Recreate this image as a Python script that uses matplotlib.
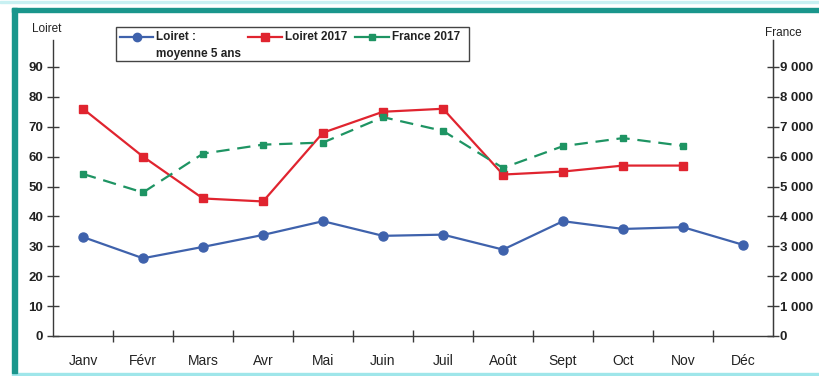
import matplotlib
matplotlib.use("Agg")
import matplotlib.pyplot as plt
from matplotlib.lines import Line2D
from matplotlib.patches import Rectangle
from matplotlib.ticker import FuncFormatter

plt.rcParams['font.family'] = ['Liberation Sans', 'DejaVu Sans']

months = ["Janv", "Févr", "Mars", "Avr", "Mai", "Juin", "Juil", "Août",
          "Sept", "Oct", "Nov", "Déc"]
loiret_avg5 = [33.1, 26.0, 29.8, 33.8, 38.4, 33.5, 33.9, 28.9, 38.4, 35.8, 36.4, 30.5]
loiret_2017 = [76, 60, 46, 45, 68, 75, 76, 54, 55, 57, 57]
france_2017 = [5420, 4800, 6100, 6400, 6470, 7320, 6860, 5620, 6350, 6620, 6360]

left_ticks = list(range(0, 100, 10))
right_ticks = list(range(0, 10000, 1000))

BLUE = "#3F62AC"
RED = "#E0242F"
GREEN = "#1E9463"
TEAL = "#1A968C"
AXC = "#3a3a3a"
TXT = "#222222"

W, H = 819, 376
fig = plt.figure(figsize=(W / 100, H / 100), dpi=100)
fig.patch.set_facecolor("white")


def fx(px):
    return px / W


def fy(py):
    return 1 - py / H


# decorative frame
fig.patches.append(Rectangle((0, fy(3)), 1, 2 / H, transform=fig.transFigure,
                             color="#c8f0f2", zorder=0))
fig.patches.append(Rectangle((fx(12), 0), 1 - fx(12), 3 / H, transform=fig.transFigure,
                             color="#9fe6ea", zorder=0))
fig.patches.append(Rectangle((fx(12), 3 / H), 5 / W, 1 - 11 / H, transform=fig.transFigure,
                             color=TEAL, zorder=1))
fig.patches.append(Rectangle((fx(12), fy(12)), 1 - fx(12), 4 / H, transform=fig.transFigure,
                             color=TEAL, zorder=1))

ax = fig.add_axes([fx(53), fy(336), 720 / W, 296 / H])
ax.set_facecolor("none")
x = list(range(len(months)))

ax.set_xlim(-0.5, 11.5)
ax.set_ylim(0, 99)
ax.set_yticks(left_ticks)
ax.set_yticklabels([str(t) for t in left_ticks], fontsize=9.5, fontweight="bold", color=TXT)
ax.set_xticks([i + 0.5 for i in range(11)])
ax.set_xticklabels([])
ax.set_xticks(x, minor=True)
ax.set_xticklabels(months, minor=True, fontsize=10, color=TXT)
ax.tick_params(axis="x", which="major", direction="inout", length=8, width=1, color=AXC)
ax.tick_params(axis="x", which="minor", length=0, pad=13)
ax.tick_params(axis="y", direction="inout", length=8, width=1, color=AXC, pad=3)
ax.spines["top"].set_visible(False)
for s in ["left", "bottom", "right"]:
    ax.spines[s].set_color(AXC)
    ax.spines[s].set_linewidth(1)

ax.plot(x, loiret_avg5, color=BLUE, lw=1.6, marker="o", ms=6.5, zorder=3)
ax.plot(x[:len(loiret_2017)], loiret_2017, color=RED, lw=1.6, marker="s", ms=6, zorder=4)

ax2 = ax.twinx()
ax2.set_ylim(0, 9900)
ax2.set_yticks(right_ticks)
ax2.yaxis.set_major_formatter(FuncFormatter(lambda v, p: f"{int(v):,}".replace(",", " ")))
ax2.tick_params(axis="y", direction="inout", length=8, width=1, color=AXC, pad=1,
                labelsize=9.5, labelcolor=TXT)
for lab in ax2.get_yticklabels():
    lab.set_fontweight("bold")
for s in ["top", "left", "bottom"]:
    ax2.spines[s].set_visible(False)
ax2.spines["right"].set_color(AXC)
ax2.plot(x[:len(france_2017)], france_2017, color=GREEN, lw=1.6, marker="s", ms=4.5,
         dashes=(6, 3.5), zorder=3)

fig.text(fx(47), fy(29), "Loiret", ha="center", va="center", fontsize=8.5, color=TXT)
fig.text(fx(783), fy(33), "France", ha="center", va="center", fontsize=8.5, color=TXT)

# legend box drawn by hand so the two-line label keeps its key on the first line
fig.patches.append(Rectangle((fx(116), fy(61)), 353 / W, 34 / H, transform=fig.transFigure,
                             facecolor="white", edgecolor="#444444", lw=1, zorder=5))
legend_items = [
    (BLUE, "o", 6, 120, 153, "Loiret :\nmoyenne 5 ans", 156),
    (RED, "s", 6, 248, 282, "Loiret 2017", 285),
    (GREEN, "s", 4.5, 355, 389, "France 2017", 392),
]
key_y = 37
for color, marker, ms, x0, x1, label, tx in legend_items:
    fig.add_artist(Line2D([fx(x0), fx(x1)], [fy(key_y), fy(key_y)], transform=fig.transFigure,
                          color=color, lw=1.6, zorder=6))
    fig.add_artist(Line2D([fx((x0 + x1) / 2)], [fy(key_y)], transform=fig.transFigure,
                          color=color, marker=marker, ms=ms, lw=0, zorder=7))
    fig.text(fx(tx), fy(key_y - 5.5), label, ha="left", va="top", fontsize=8.5,
             fontweight="bold", color=TXT, linespacing=1.45, zorder=7)

fig.savefig("out.png", dpi=100, facecolor="white")
